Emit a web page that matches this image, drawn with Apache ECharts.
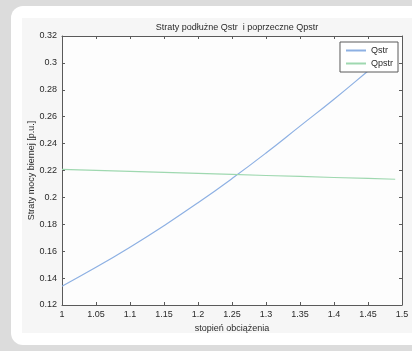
<!DOCTYPE html>
<html>
<head>
<meta charset="utf-8">
<script src="https://cdn.jsdelivr.net/npm/echarts@6/dist/echarts.min.js"></script>
<style>
  html, body { margin: 0; padding: 0; background: #dcdcdc; }
  #chart { width: 412px; height: 351px; }
</style>
</head>
<body>
<div id="chart"></div>
<script>
// stopień obciążenia (x) i straty (y)
var load = [1.00, 1.05, 1.10, 1.15, 1.20, 1.25, 1.30, 1.35, 1.40, 1.45, 1.49];
var qstr = [0.134, 0.148, 0.163, 0.179, 0.196, 0.214, 0.233, 0.253, 0.273, 0.294, 0.311];
var qpstr = [0.2209, 0.2201, 0.2194, 0.2186, 0.2179, 0.2171, 0.2163, 0.2156, 0.2148, 0.2141, 0.2135];
var seriesNames = ['Qstr', 'Qpstr'];
var seriesColors = ['#8db0e3', '#9fd8b0'];

function pairs(xs, ys) {
    var out = [];
    for (var i = 0; i < xs.length; i++) out.push([xs[i], ys[i]]);
    return out;
}

var chart = echarts.init(document.getElementById('chart'));
var font = 'Liberation Sans, Arial, sans-serif';
var boxColor = '#5a5a5a';
var txt = '#2a2a2a';

var option = {
    backgroundColor: '#dcdcdc',
    animation: false,
    textStyle: { fontFamily: font },
    graphic: [
        // biała karta
        { type: 'rect', z: -10, silent: true,
          shape: { x: 11, y: 6, width: 420, height: 339, r: 12 },
          style: { fill: '#ffffff' } },
        // tło figury
        { type: 'rect', z: -9, silent: true,
          shape: { x: 22, y: 18, width: 400, height: 315 },
          style: { fill: '#f6f6f6' } },
        // tło osi
        { type: 'rect', z: -8, silent: true,
          shape: { x: 62, y: 36, width: 340, height: 269 },
          style: { fill: '#fdfdfd' } }
    ],
    title: {
        text: 'Straty podłużne Qstr  i poprzeczne Qpstr',
        left: 232, top: 18, textAlign: 'center',
        textStyle: { fontSize: 9, fontWeight: 'normal', color: txt, fontFamily: font }
    },
    legend: {
        orient: 'vertical',
        right: 14, top: 42,
        data: [
            { name: seriesNames[0], itemStyle: { color: seriesColors[0] } },
            { name: seriesNames[1], itemStyle: { color: seriesColors[1] } }
        ],
        icon: 'rect',
        backgroundColor: '#ffffff',
        borderColor: boxColor,
        borderWidth: 1,
        borderRadius: 0,
        padding: [4, 5, 4, 6],
        itemGap: 4,
        itemWidth: 20,
        itemHeight: 2,
        textStyle: { fontSize: 9, color: txt, fontFamily: font }
    },
    grid: { left: 62, right: 10, top: 36, bottom: 46, containLabel: false },
    xAxis: [{
        type: 'value', min: 1, max: 1.5, interval: 0.05,
        name: 'stopień obciążenia', nameLocation: 'middle', nameGap: 19,
        nameMoveOverlap: false,
        nameTextStyle: { fontSize: 9, color: txt },
        axisLine: { onZero: false, lineStyle: { color: boxColor } },
        axisTick: { inside: true, length: 3, lineStyle: { color: boxColor } },
        axisLabel: { fontSize: 9, color: txt, margin: 5,
            formatter: function (v) { return +v.toFixed(2) + ''; } },
        splitLine: { show: false }
    }, {
        type: 'value', position: 'top', min: 1, max: 1.5, interval: 0.05,
        axisLine: { show: true, lineStyle: { color: boxColor } },
        axisTick: { inside: true, length: 3, lineStyle: { color: boxColor } },
        axisLabel: { show: false },
        splitLine: { show: false }
    }],
    yAxis: [{
        type: 'value', min: 0.12, max: 0.32, interval: 0.02,
        name: 'Straty mocy biernej [p.u.]', nameLocation: 'middle', nameGap: 26,
        nameMoveOverlap: false,
        nameTextStyle: { fontSize: 9, color: txt },
        axisLine: { show: true, onZero: false, lineStyle: { color: boxColor } },
        axisTick: { show: true, inside: true, length: 3, lineStyle: { color: boxColor } },
        axisLabel: { fontSize: 9, color: txt, margin: 5,
            formatter: function (v) { return +v.toFixed(2) + ''; } },
        splitLine: { show: false }
    }, {
        type: 'value', position: 'right', min: 0.12, max: 0.32, interval: 0.02,
        axisLine: { show: true, lineStyle: { color: boxColor } },
        axisTick: { show: true, inside: true, length: 3, lineStyle: { color: boxColor } },
        axisLabel: { show: false },
        splitLine: { show: false }
    }],
    series: [{
        name: seriesNames[0], type: 'line', smooth: true, symbol: 'none',
        data: pairs(load, qstr),
        lineStyle: { color: seriesColors[0], width: 1.2 },
        itemStyle: { color: seriesColors[0] }
    }, {
        name: seriesNames[1], type: 'line', symbol: 'none',
        data: pairs(load, qpstr),
        lineStyle: { color: seriesColors[1], width: 1.2 },
        itemStyle: { color: seriesColors[1] }
    }]
};

chart.setOption(option);
window.onresize = function () { chart.resize(); };
</script>
</body>
</html>
